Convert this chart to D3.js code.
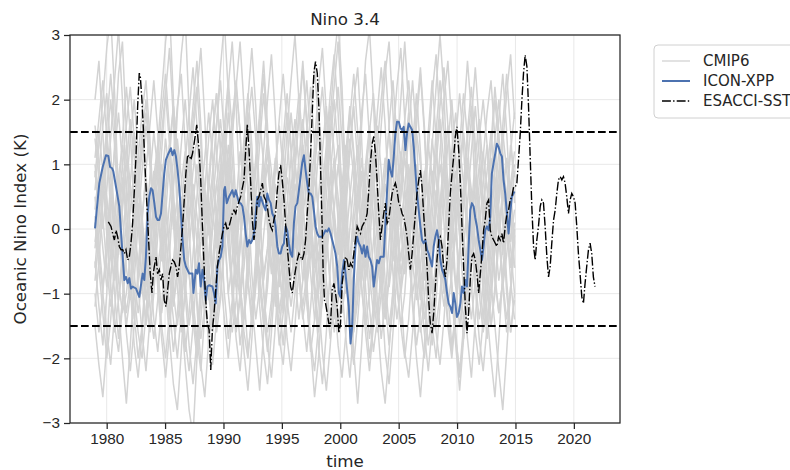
<!DOCTYPE html>
<html>
<head>
<meta charset="utf-8">
<script src="https://cdn.jsdelivr.net/npm/d3@7"></script>
<style>
  body { margin: 0; background: #fff; }
  svg { display: block; font-family: "DejaVu Sans", sans-serif; }
  .axis text { fill: #262626; font-size: 15.3px; }
  .axis line, .axis path { stroke: #262626; stroke-width: 1.25; }
  .grid line { stroke: #e8e8e8; stroke-width: 1; }
</style>
</head>
<body>
<svg width="790" height="470"></svg>
<script>
// ICON-XPP run, [year, index]
var iconPoints = [
  [1979.00, 0.01], [1979.37, 0.71], [1979.66, 0.96], [1979.94, 1.14], [1980.14, 1.13], [1980.29, 0.96],
  [1980.46, 0.94], [1980.57, 0.89], [1980.80, 0.65], [1981.08, 0.35], [1981.31, -0.27], [1981.51, -0.79],
  [1981.65, -0.74], [1981.80, -0.84], [1981.94, -0.76], [1982.08, -0.92], [1982.22, -0.89], [1982.51, -0.92],
  [1982.79, -1.05], [1983.08, -0.69], [1983.22, -0.79], [1983.36, -0.43], [1983.51, 0.24], [1983.65, 0.50],
  [1983.79, 0.63], [1983.93, 0.60], [1984.08, 0.40], [1984.22, 0.19], [1984.36, 0.14], [1984.50, 0.14],
  [1984.65, 0.24], [1984.79, 0.55], [1984.93, 0.86], [1985.07, 1.07], [1985.22, 1.14], [1985.50, 1.25],
  [1985.64, 1.14], [1985.79, 1.22], [1985.93, 1.12], [1986.07, 0.91], [1986.21, 0.65], [1986.36, 0.24],
  [1986.50, -0.17], [1986.64, -0.48], [1986.78, -0.58], [1987.07, -0.69], [1987.34, -0.69], [1987.43, -0.99],
  [1987.63, -0.63], [1987.77, -0.69], [1987.91, -0.53], [1988.05, -0.89], [1988.20, -0.63], [1988.34, -0.79],
  [1988.48, -1.10], [1988.62, -0.89], [1988.77, -0.87], [1989.05, -0.89], [1989.19, -0.99], [1989.34, -1.15],
  [1989.48, -0.58], [1989.62, -0.48], [1989.76, -0.43], [1989.91, -0.27], [1990.05, 0.60], [1990.13, 0.65],
  [1990.28, 0.40], [1990.48, 0.50], [1990.62, 0.55], [1990.76, 0.60], [1990.90, 0.50], [1991.05, 0.60],
  [1991.19, 0.50], [1991.33, 0.40], [1991.47, 0.40], [1991.62, 0.35], [1991.76, 0.19], [1991.90, -0.07],
  [1992.04, -0.27], [1992.19, -0.17], [1992.33, -0.22], [1992.47, -0.17], [1992.61, -0.07], [1992.76, 0.24],
  [1992.90, 0.50], [1993.04, 0.35], [1993.18, 0.50], [1993.47, 0.35], [1993.61, 0.29], [1993.75, 0.55],
  [1993.90, 0.45], [1994.04, 0.40], [1994.18, 0.24], [1994.32, 0.19], [1994.46, 0.04], [1994.61, -0.27],
  [1994.75, -0.38], [1994.89, -0.38], [1995.03, -0.27], [1995.18, -0.22], [1995.32, 0.04], [1995.46, -0.02],
  [1995.60, -0.22], [1995.75, -0.38], [1995.89, -0.43], [1996.03, 0.09], [1996.17, 0.35], [1996.32, 0.40],
  [1996.46, 0.60], [1996.60, 0.81], [1996.74, 1.02], [1996.89, 1.14], [1997.03, 0.91], [1997.17, 0.71],
  [1997.31, 0.55], [1997.46, 0.55], [1997.60, 0.50], [1997.74, 0.29], [1997.88, 0.04], [1998.03, -0.07],
  [1998.17, -0.12], [1998.45, -0.12], [1998.60, -0.07], [1998.74, -0.02], [1998.88, -0.04], [1999.02, 0.01],
  [1999.17, -0.07], [1999.31, -0.17], [1999.45, -0.27], [1999.59, -0.38], [1999.74, -0.58], [1999.88, -0.99],
  [2000.02, -1.05], [2000.16, -0.69], [2000.31, -0.48], [2000.45, -0.69], [2000.59, -0.94], [2000.73, -1.20],
  [2000.88, -1.77], [2001.02, -1.51], [2001.16, -0.79], [2001.30, -0.27], [2001.45, -0.12], [2001.59, -0.22],
  [2001.73, -0.27], [2001.87, -0.38], [2002.02, -0.25], [2002.16, -0.43], [2002.30, -0.27], [2002.44, -0.43],
  [2002.58, -0.48], [2002.73, -0.58], [2002.87, -0.89], [2003.01, -0.69], [2003.15, -0.48], [2003.30, -0.53],
  [2003.44, -0.43], [2003.72, -0.43], [2003.87, 0.09], [2004.01, 0.60], [2004.15, 1.07], [2004.29, 0.91],
  [2004.44, 0.81], [2004.58, 1.12], [2004.72, 1.48], [2004.86, 1.66], [2005.01, 1.66], [2005.15, 1.56],
  [2005.29, 1.53], [2005.43, 1.58], [2005.58, 1.22], [2005.72, 1.48], [2005.86, 1.63], [2006.00, 1.58],
  [2006.15, 1.53], [2006.29, 1.27], [2006.43, 0.91], [2006.57, 0.55], [2006.72, 0.29], [2006.86, 0.04],
  [2007.00, -0.17], [2007.14, -0.22], [2007.29, -0.17], [2007.43, -0.32], [2007.57, -0.38], [2007.71, -0.48],
  [2007.86, -0.58], [2008.00, -0.27], [2008.14, -0.12], [2008.28, -0.02], [2008.43, -0.17], [2008.57, -0.48],
  [2008.71, -0.63], [2008.85, -0.69], [2009.00, -0.79], [2009.14, -0.99], [2009.28, -1.15], [2009.42, -1.20],
  [2009.57, -1.30], [2009.71, -0.99], [2009.85, -1.15], [2009.99, -1.36], [2010.14, -1.30], [2010.28, -1.15],
  [2010.42, -0.89], [2010.56, -0.99], [2010.71, -0.79], [2010.85, -0.89], [2010.99, -0.27], [2011.13, 0.29],
  [2011.27, 0.40], [2011.42, 0.35], [2011.56, 0.17], [2011.70, 0.04], [2011.85, -0.17], [2011.99, -0.32],
  [2012.13, -0.48], [2012.27, -0.27], [2012.41, -0.02], [2012.56, 0.04], [2012.70, -0.02], [2012.84, 0.19],
  [2012.98, 0.86], [2013.13, 1.02], [2013.27, 1.17], [2013.41, 1.32], [2013.55, 1.27], [2013.70, 1.17],
  [2013.84, 1.12], [2013.98, 0.76], [2014.12, 0.55], [2014.27, 0.24], [2014.41, -0.07], [2014.55, 0.24],
  [2014.69, 0.50], [2014.84, 0.55], [2014.92, 0.58]
];

// ESACCI-SST observations, [year, index]
var esaPoints = [
  [1980.14, 0.11], [1980.37, 0.04], [1980.51, -0.07], [1980.66, -0.17], [1980.80, -0.02], [1980.94, -0.12],
  [1981.08, -0.27], [1981.23, -0.32], [1981.37, -0.32], [1981.51, -0.38], [1981.65, -0.32], [1981.80, -0.48],
  [1981.94, -0.43], [1982.08, -0.22], [1982.22, 0.09], [1982.37, 0.60], [1982.51, 1.12], [1982.65, 1.89],
  [1982.79, 2.41], [1982.88, 2.36], [1983.02, 1.99], [1983.16, 1.48], [1983.31, 0.86], [1983.45, 0.35],
  [1983.59, -0.17], [1983.73, -0.69], [1983.88, -0.99], [1983.99, -0.69], [1984.08, -0.58], [1984.22, -0.43],
  [1984.36, -0.69], [1984.50, -0.63], [1984.65, -0.79], [1984.79, -0.69], [1984.93, -1.10], [1985.07, -1.20],
  [1985.22, -0.94], [1985.36, -0.69], [1985.50, -0.58], [1985.64, -0.48], [1985.79, -0.51], [1985.93, -0.58],
  [1986.07, -0.74], [1986.21, -0.58], [1986.36, -0.27], [1986.50, 0.04], [1986.64, 0.45], [1986.78, 0.86],
  [1986.92, 1.12], [1987.07, 1.14], [1987.21, 1.07], [1987.35, 1.17], [1987.55, 1.40], [1987.71, 1.61],
  [1987.91, 1.22], [1988.05, 0.76], [1988.20, 0.04], [1988.34, -0.58], [1988.48, -1.10], [1988.62, -1.46],
  [1988.77, -1.56], [1988.91, -2.18], [1989.05, -1.56], [1989.19, -1.30], [1989.34, -0.94], [1989.48, -0.58],
  [1989.62, -0.38], [1989.91, -0.07], [1990.05, 0.04], [1990.19, 0.09], [1990.33, -0.02], [1990.48, 0.04],
  [1990.62, 0.14], [1990.76, 0.24], [1990.90, 0.29], [1991.05, 0.24], [1991.19, 0.35], [1991.47, 0.50],
  [1991.76, 0.76], [1991.90, 1.22], [1992.04, 1.61], [1992.19, 1.22], [1992.33, 0.71], [1992.47, 0.14],
  [1992.61, -0.17], [1992.76, 0.04], [1992.90, 0.45], [1993.04, 0.50], [1993.18, 0.60], [1993.33, 0.71],
  [1993.47, 0.50], [1993.61, 0.45], [1993.75, 0.35], [1993.90, 0.14], [1994.04, 0.04], [1994.18, -0.02],
  [1994.32, 0.14], [1994.46, 0.24], [1994.61, 0.60], [1994.75, 0.86], [1994.89, 0.99], [1995.03, 0.76],
  [1995.18, 0.45], [1995.32, 0.07], [1995.46, -0.27], [1995.60, -0.58], [1995.75, -0.89], [1995.89, -0.99],
  [1996.03, -0.79], [1996.17, -0.63], [1996.32, -0.48], [1996.46, -0.38], [1996.60, -0.43], [1996.74, -0.48],
  [1996.89, -0.38], [1997.03, -0.17], [1997.17, 0.24], [1997.31, 0.60], [1997.46, 1.17], [1997.60, 1.79],
  [1997.74, 2.41], [1997.88, 2.59], [1998.03, 2.41], [1998.17, 1.89], [1998.25, 1.38], [1998.34, 0.76],
  [1998.45, 0.04], [1998.54, -0.69], [1998.65, -1.10], [1998.74, -1.15], [1998.88, -1.30], [1999.02, -1.46],
  [1999.17, -1.46], [1999.31, -0.94], [1999.45, -0.84], [1999.59, -0.99], [1999.74, -1.20], [1999.88, -1.61],
  [2000.02, -1.46], [2000.16, -0.84], [2000.31, -0.63], [2000.45, -0.43], [2000.59, -0.48], [2000.73, -0.63],
  [2000.88, -0.53], [2001.02, -0.58], [2001.16, -0.38], [2001.30, -0.17], [2001.45, 0.04], [2001.59, -0.02],
  [2001.73, -0.07], [2001.87, 0.04], [2002.02, 0.09], [2002.16, 0.14], [2002.30, 0.24], [2002.44, 0.60],
  [2002.58, 1.02], [2002.73, 1.32], [2002.87, 1.43], [2003.01, 1.17], [2003.15, 0.76], [2003.30, 0.24],
  [2003.44, -0.17], [2003.58, 0.04], [2003.72, 0.24], [2003.86, 0.40], [2004.01, 0.09], [2004.15, 0.14],
  [2004.29, 0.35], [2004.44, 0.55], [2004.58, 0.65], [2004.72, 0.71], [2004.86, 0.60], [2005.01, 0.40],
  [2005.15, 0.35], [2005.29, 0.24], [2005.43, 0.19], [2005.58, 0.04], [2005.72, -0.12], [2005.86, -0.38],
  [2006.00, -0.63], [2006.15, -0.38], [2006.29, -0.07], [2006.43, 0.24], [2006.57, 0.55], [2006.72, 0.76],
  [2006.86, 0.91], [2007.00, 0.65], [2007.14, 0.24], [2007.29, -0.17], [2007.43, -0.58], [2007.57, -1.10],
  [2007.71, -1.46], [2007.86, -1.61], [2008.00, -1.30], [2008.14, -0.89], [2008.28, -0.48], [2008.43, -0.17],
  [2008.57, -0.12], [2008.71, -0.27], [2008.85, -0.58], [2009.00, -0.74], [2009.14, -0.48], [2009.28, 0.04],
  [2009.42, 0.55], [2009.57, 0.86], [2009.71, 1.12], [2009.85, 1.43], [2009.99, 1.58], [2010.14, 1.22],
  [2010.28, 0.71], [2010.42, 0.04], [2010.56, -0.58], [2010.71, -1.20], [2010.85, -1.61], [2010.99, -1.30],
  [2011.13, -0.79], [2011.27, -0.43], [2011.42, -0.38], [2011.56, -0.48], [2011.70, -0.69], [2011.85, -0.99],
  [2011.99, -0.69], [2012.13, -0.38], [2012.27, -0.02], [2012.41, 0.14], [2012.56, 0.40], [2012.70, 0.45],
  [2012.84, -0.02], [2012.98, -0.12], [2013.13, -0.17], [2013.27, -0.22], [2013.41, -0.27], [2013.55, -0.12],
  [2013.70, -0.17], [2013.84, -0.07], [2013.98, -0.22], [2014.12, 0.04], [2014.27, 0.24], [2014.41, 0.29],
  [2014.55, 0.45], [2014.69, 0.50], [2014.84, 0.65], [2014.98, 0.65], [2015.12, 0.71], [2015.26, 1.07],
  [2015.41, 1.48], [2015.55, 1.99], [2015.69, 2.41], [2015.83, 2.69], [2015.98, 2.51], [2016.12, 1.89],
  [2016.26, 1.12], [2016.40, 0.35], [2016.55, -0.27], [2016.69, -0.48], [2016.83, -0.17], [2016.97, 0.04],
  [2017.12, 0.35], [2017.26, 0.45], [2017.40, 0.40], [2017.54, 0.04], [2017.69, -0.43], [2017.83, -0.74],
  [2017.97, -0.58], [2018.11, -0.22], [2018.26, 0.14], [2018.40, 0.29], [2018.54, 0.55], [2018.68, 0.76],
  [2018.83, 0.81], [2018.97, 0.76], [2019.11, 0.81], [2019.25, 0.71], [2019.39, 0.50], [2019.54, 0.24],
  [2019.68, 0.45], [2019.82, 0.55], [2019.96, 0.50], [2020.11, 0.40], [2020.25, 0.04], [2020.39, -0.38],
  [2020.53, -0.69], [2020.68, -1.05], [2020.82, -1.15], [2020.96, -0.84], [2021.10, -0.58], [2021.25, -0.32],
  [2021.39, -0.22], [2021.53, -0.38], [2021.67, -0.74], [2021.81, -0.89]
];

// CMIP6 members, sampled every ~4 months from cmipStart to cmipEnd (estimated)
var cmipStart = 1979.0;
var cmipEnd = 2014.92;

var cmipRun1 = [0.3, 0.9, 1.6, 2.1, 1.2, 0.1, -0.8, -1.3, -1.0, -0.4, 0.2, 0.8,
  1.5, 0.6, -0.5, -1.4, -1.9, -1.2, -0.3, 0.4, 1.1, 1.9, 2.4, 1.3,
  0.0, -1.1, -1.7, -2.2, -1.3, -0.5, 0.1, 0.7, 0.4, -0.2, 0.6, 1.4,
  2.2, 1.5, 0.3, -0.8, -1.5, -0.9, -0.2, 0.5, 1.0, 0.3, -0.6, -1.2,
  -1.8, -1.0, 0.2, 1.1, 1.8, 2.6, 1.7, 0.2, -1.0, -1.6, -1.1, -0.3,
  0.4, 0.9, 0.2, -0.5, 0.3, 1.2, 1.9, 1.0, -0.4, -1.3, -2.0, -1.4,
  -0.6, 0.1, 0.8, 1.6, 2.3, 1.4, 0.2, -0.7, -0.3, 0.5, 1.0, 0.4,
  -0.5, -1.2, -1.8, -1.1, -0.2, 0.6, 1.3, 2.0, 1.1, -0.1, -1.0, -1.7,
  -2.3, -1.4, -0.5, 0.3, 0.9, 1.5, 0.8, -0.1, -0.9, -0.4, 0.3, 0.9];
var cmipRun2 = [-0.5, -1.2, -1.8, -1.0, 0.2, 1.3, 2.4, 2.9, 1.5, -0.2, -1.3, -2.0,
  -1.5, -0.6, 0.3, 0.9, 0.5, -0.3, -1.0, -0.4, 0.6, 1.8, 2.7, 3.3,
  1.8, 0.2, -1.2, -2.1, -2.6, -1.7, -0.8, 0.1, 0.7, 1.2, 0.6, -0.1,
  -0.7, -0.2, 0.8, 2.0, 2.8, 1.9, 0.4, -0.9, -1.8, -2.3, -1.5, -0.6,
  0.2, 0.8, 0.4, -0.3, 0.5, 1.5, 2.3, 1.4, 0.0, -1.1, -1.9, -2.5,
  -1.8, -0.9, 0.1, 0.7, 1.3, 0.6, -0.2, 0.4, 1.6, 2.6, 3.1, 2.0,
  0.5, -0.9, -1.9, -2.4, -1.6, -0.7, 0.0, 0.6, 0.2, -0.5, -1.1, -0.6,
  0.3, 1.2, 2.1, 2.7, 1.6, 0.1, -1.0, -1.8, -1.3, -0.4, 0.5, 1.1,
  0.6, -0.2, -0.9, -0.3, 0.4, 1.3, 2.2, 1.5, 0.3, -0.8, -1.6, -1.0];
var cmipRun3 = [1.0, 0.4, -0.3, -0.9, -0.4, 0.3, 0.8, 0.2, -0.6, -1.1, -0.5, 0.5,
  1.4, 2.0, 1.2, 0.1, -0.8, -1.5, -2.0, -1.3, -0.5, 0.2, -0.2, 0.4,
  1.1, 1.7, 2.2, 1.3, 0.0, -1.0, -1.6, -0.9, -0.1, 0.6, 1.3, 0.7,
  -0.1, -0.9, -1.4, -0.8, 0.1, 0.9, 1.6, 2.4, 1.4, 0.2, -0.9, -1.7,
  -2.1, -1.3, -0.4, 0.3, 0.9, 0.4, -0.4, 0.2, 1.0, 1.8, 1.1, 0.0,
  -0.9, -1.6, -1.1, -0.3, 0.5, 1.2, 2.0, 2.5, 1.4, -0.1, -1.2, -1.9,
  -1.4, -0.6, 0.2, 0.9, 0.4, -0.4, -1.0, -0.5, 0.4, 1.3, 2.1, 1.2,
  0.1, -0.8, -1.5, -2.0, -1.2, -0.3, 0.5, 1.1, 0.6, -0.1, 0.7, 1.5,
  2.2, 1.3, 0.0, -1.0, -1.7, -1.1, -0.3, 0.4, 1.0, 0.5, -0.2, 0.3];
var cmipRun4 = [-1.2, -0.5, 0.4, 1.1, 0.6, -0.2, 0.5, 1.4, 2.2, 1.5, 0.3, -0.9,
  -1.6, -2.2, -1.4, -0.6, 0.2, 0.8, 0.3, -0.4, -1.1, -0.6, 0.3, 1.0,
  1.8, 2.5, 1.6, 0.3, -1.0, -1.8, -1.2, -0.4, 0.3, 1.0, 0.5, -0.3,
  -0.9, -0.3, 0.5, 1.2, 0.7, -0.1, -0.8, -1.5, -0.9, 0.0, 0.9, 1.7,
  2.4, 1.6, 0.4, -0.7, -1.4, -0.8, 0.0, 0.6, 0.2, -0.5, 0.2, 1.1,
  1.9, 1.2, 0.1, -0.9, -1.7, -2.3, -1.5, -0.6, 0.3, 1.0, 1.6, 0.9,
  0.0, -0.7, -0.2, 0.6, 1.4, 2.2, 2.8, 1.7, 0.2, -1.1, -1.8, -1.3,
  -0.5, 0.2, 0.9, 0.4, -0.3, -1.0, -0.4, 0.5, 1.4, 2.1, 1.3, 0.1,
  -0.9, -1.6, -2.1, -1.4, -0.5, 0.3, 0.8, 0.3, -0.4, 0.4, 1.2, 1.8];
var cmipRun5 = [0.8, 1.5, 0.9, -0.1, -0.9, -1.6, -1.1, -0.3, 0.6, 1.4, 2.0, 1.2,
  0.1, -0.7, -0.3, 0.4, 1.0, 0.5, -0.4, -1.2, -1.9, -1.3, -0.5, 0.4,
  1.2, 1.9, 2.6, 1.6, 0.2, -0.8, -1.5, -1.0, -0.2, 0.5, 1.1, 0.5,
  -0.3, 0.4, 1.2, 1.8, 1.0, -0.2, -1.2, -1.9, -2.4, -1.6, -0.7, 0.1,
  0.7, 0.2, -0.4, 0.3, 1.1, 1.7, 1.0, 0.0, -0.6, -0.2, 0.6, 1.3,
  2.1, 2.7, 1.8, 0.5, -0.7, -1.6, -2.1, -1.4, -0.6, 0.1, 0.7, 0.2,
  -0.5, -1.0, -0.4, 0.5, 1.3, 0.8, 0.0, 0.6, 1.5, 2.3, 1.4, 0.1,
  -1.1, -1.8, -1.3, -0.5, 0.3, 0.9, 0.4, -0.3, -0.9, -0.3, 0.6, 1.4,
  1.9, 1.1, 0.0, -0.8, -1.5, -0.9, -0.1, 0.7, 1.6, 2.4, 1.5, 0.4];
var cmipRun6 = [-0.2, 0.3, 0.7, 0.2, -0.4, -0.8, -0.3, 0.4, 1.0, 0.6, 0.0, -0.5,
  -1.0, -0.6, 0.1, 0.8, 1.3, 0.7, -0.1, -0.7, -1.2, -0.7, 0.0, 0.6,
  1.1, 0.5, -0.2, -0.9, -1.3, -0.8, 0.0, 0.7, 1.2, 1.6, 0.9, 0.1,
  -0.6, -1.1, -0.6, 0.2, 0.9, 0.4, -0.3, -0.8, -0.3, 0.5, 1.1, 0.6,
  -0.1, -0.7, -1.2, -0.7, 0.1, 0.8, 1.4, 0.9, 0.1, -0.6, -1.0, -0.5,
  0.2, 0.9, 1.3, 0.7, -0.1, -0.8, -0.4, 0.3, 0.9, 0.4, -0.3, -0.9,
  -1.3, -0.8, 0.0, 0.7, 1.2, 1.7, 1.0, 0.2, -0.5, -1.0, -0.6, 0.1,
  0.8, 1.3, 0.8, 0.0, -0.7, -1.2, -0.7, 0.1, 0.6, 0.2, -0.4, -1.0,
  -0.6, 0.1, 0.7, 1.2, 0.6, -0.1, -0.8, -1.3, -0.8, 0.0, 0.6, 1.0];
var cmipRun7 = [2.0, 2.6, 1.5, 0.2, -0.9, -1.5, -1.9, -1.2, -0.4, 0.3, 0.9, 0.3,
  -0.4, -1.1, -0.5, 0.4, 1.3, 2.1, 2.9, 3.4, 2.0, 0.4, -0.9, -1.7,
  -2.2, -1.5, -0.6, 0.1, 0.6, 0.1, -0.6, -0.1, 0.8, 1.6, 2.3, 1.5,
  0.3, -0.8, -1.6, -2.0, -1.3, -0.4, 0.4, 1.0, 0.5, -0.2, -0.8, -0.2,
  0.6, 1.5, 2.3, 3.0, 2.0, 0.5, -0.8, -1.7, -2.2, -1.5, -0.6, 0.2,
  0.8, 0.3, -0.4, 0.3, 1.1, 1.8, 1.1, 0.0, -0.9, -1.5, -1.0, -0.2,
  0.7, 1.6, 2.4, 2.9, 1.8, 0.3, -1.0, -1.9, -2.3, -1.6, -0.7, 0.2,
  0.9, 0.4, -0.3, 0.4, 1.2, 2.0, 2.6, 1.6, 0.2, -1.0, -1.7, -1.2,
  -0.4, 0.3, 1.0, 0.5, -0.2, -0.8, -0.3, 0.5, 1.3, 2.1, 2.7, 1.7];
var cmipRun8 = [-1.5, -2.1, -2.6, -1.8, -0.8, 0.1, 0.8, 1.3, 0.7, 0.0, -0.7, -1.3,
  -0.8, 0.0, 0.8, 1.5, 0.9, 0.0, -0.9, -1.7, -2.4, -2.8, -1.9, -0.8,
  0.2, 0.9, 1.4, 0.8, 0.1, -0.6, -1.2, -0.7, 0.2, 1.0, 1.8, 1.1,
  0.0, -1.0, -1.9, -2.5, -1.7, -0.8, 0.1, 0.8, 1.4, 0.9, 0.1, -0.6,
  -1.3, -0.8, 0.0, 0.7, 0.3, -0.4, -1.1, -1.8, -2.6, -2.0, -1.0, 0.0,
  0.8, 1.6, 2.2, 1.4, 0.3, -0.6, -1.3, -0.8, 0.0, 0.6, 0.1, -0.6,
  -1.4, -2.2, -2.7, -1.9, -0.9, 0.0, 0.7, 1.4, 0.8, 0.0, -0.8, -1.5,
  -2.0, -1.4, -0.5, 0.3, 1.0, 0.5, -0.2, -0.9, -1.6, -2.3, -1.6, -0.6,
  0.3, 1.1, 1.7, 0.9, 0.0, -0.8, -1.5, -2.2, -2.8, -1.9, -0.9, 0.0];
var cmipRun9 = [0.5, -0.2, -0.9, -0.4, 0.5, 1.2, 1.8, 1.0, 0.0, -0.8, -1.4, -0.8,
  0.1, 0.9, 1.6, 2.3, 1.5, 0.3, -0.8, -1.4, -0.9, -0.1, 0.5, 0.0,
  -0.7, -1.3, -1.8, -1.1, -0.2, 0.6, 1.4, 2.1, 1.3, 0.1, -1.0, -1.6,
  -1.1, -0.3, 0.5, 1.0, 0.5, -0.2, 0.4, 1.2, 2.0, 2.7, 1.7, 0.3,
  -0.9, -1.7, -2.2, -1.5, -0.6, 0.2, 0.7, 0.2, -0.5, -1.0, -0.4, 0.5,
  1.3, 2.0, 1.2, 0.1, -0.7, -1.2, -0.6, 0.3, 1.1, 0.5, -0.3, -1.0,
  -1.6, -1.0, -0.1, 0.7, 1.5, 0.9, 0.0, -0.6, -0.1, 0.7, 1.6, 2.4,
  1.5, 0.2, -0.9, -1.6, -2.1, -1.4, -0.5, 0.3, 0.9, 0.4, -0.3, 0.4,
  1.2, 1.9, 1.1, 0.0, -0.9, -1.5, -1.0, -0.2, 0.5, 1.1, 0.6, -0.2];
var cmipRun10 = [-0.8, -0.1, 0.6, 1.3, 2.0, 1.3, 0.2, -0.7, -1.3, -0.8, 0.0, 0.6,
  0.2, -0.5, -1.2, -1.7, -1.1, -0.2, 0.6, 1.3, 1.9, 1.2, 0.1, -0.8,
  -1.5, -1.0, -0.2, 0.5, 1.1, 1.8, 1.1, 0.1, -0.7, -1.4, -2.0, -1.3,
  -0.4, 0.3, 1.0, 1.6, 2.2, 1.4, 0.2, -0.7, -0.3, 0.5, 0.1, -0.6,
  -1.2, -0.7, 0.1, 0.9, 1.7, 2.5, 1.6, 0.4, -0.8, -1.5, -1.0, -0.2,
  0.5, 0.0, -0.6, -0.1, 0.7, 1.4, 0.8, -0.1, -0.9, -1.6, -2.2, -1.5,
  -0.6, 0.2, 0.9, 1.5, 0.9, 0.1, -0.7, -0.2, 0.6, 1.3, 0.7, -0.1,
  -0.8, -0.3, 0.5, 1.2, 1.9, 2.5, 1.6, 0.3, -0.9, -1.5, -1.0, -0.2,
  0.4, -0.3, -1.0, -1.6, -1.1, -0.3, 0.5, 1.2, 0.7, 0.0, -0.6, -0.1];
var cmipRun11 = [1.4, 0.8, 0.0, 0.6, 1.4, 2.3, 3.1, 2.0, 0.5, -0.9, -1.8, -2.3,
  -1.6, -0.7, 0.2, 0.8, 0.3, -0.5, 0.2, 1.1, 1.9, 1.2, 0.0, -1.0,
  -1.8, -2.4, -1.7, -0.8, 0.1, 0.8, 0.3, -0.3, 0.4, 1.3, 2.2, 2.9,
  1.9, 0.4, -1.0, -1.9, -1.4, -0.6, 0.1, 0.7, 0.2, -0.5, -1.2, -0.7,
  0.1, 1.0, 1.8, 1.1, 0.0, -0.8, -0.3, 0.5, 1.3, 2.2, 2.8, 1.8,
  0.3, -1.0, -1.8, -2.3, -1.6, -0.7, 0.1, 0.6, 0.1, -0.6, 0.0, 0.9,
  1.8, 2.5, 1.6, 0.4, -0.7, -1.4, -0.9, -0.1, 0.6, 0.2, -0.5, -1.1,
  -0.5, 0.4, 1.3, 2.2, 3.0, 2.1, 0.6, -0.8, -1.7, -2.2, -1.5, -0.6,
  0.2, 0.8, 0.3, -0.4, 0.4, 1.2, 2.0, 1.3, 0.1, -1.0, -1.6, -1.1];
var cmipRun12 = [-0.3, 0.4, 1.0, 0.5, -0.2, -1.0, -1.7, -1.1, -0.2, 0.7, 1.5, 0.9,
  -0.1, -1.0, -1.6, -1.0, -0.1, 0.7, 1.4, 0.8, 0.0, 0.5, 1.3, 2.0,
  1.2, 0.0, -1.1, -1.7, -1.2, -0.4, 0.4, 1.1, 1.7, 1.0, -0.1, -1.0,
  -1.6, -1.1, -0.3, 0.3, -0.2, 0.5, 1.3, 2.1, 1.3, 0.1, -1.0, -1.8,
  -1.3, -0.5, 0.3, 1.0, 0.5, -0.2, -0.9, -0.4, 0.4, 1.2, 0.7, -0.1,
  -0.8, -1.4, -0.9, 0.0, 0.9, 1.7, 2.4, 1.5, 0.2, -0.9, -1.7, -1.2,
  -0.3, 0.5, 1.1, 0.6, -0.2, -0.9, -1.5, -1.0, -0.1, 0.8, 1.5, 1.0,
  0.2, -0.6, -1.3, -0.8, 0.1, 0.9, 0.4, -0.3, 0.5, 1.3, 2.1, 1.4,
  0.2, -0.9, -1.7, -2.2, -1.5, -0.6, 0.2, 0.9, 1.5, 0.9, 0.1, -0.6];
var cmipRun13 = [0.1, -0.6, -1.3, -2.0, -1.4, -0.5, 0.3, 1.0, 1.6, 2.2, 1.4, 0.2,
  -0.9, -1.5, -1.0, -0.2, 0.5, 1.0, 0.5, -0.3, -1.0, -1.5, -0.9, 0.0,
  0.8, 1.5, 2.1, 2.8, 1.7, 0.3, -0.9, -1.6, -1.1, -0.3, 0.4, 0.0,
  -0.7, -0.2, 0.6, 1.3, 0.8, 0.0, -0.7, -1.3, -1.9, -1.3, -0.4, 0.4,
  1.1, 1.8, 1.2, 0.2, -0.6, -1.2, -0.7, 0.1, 0.9, 1.6, 2.2, 1.4,
  0.2, -0.8, -1.5, -1.0, -0.2, 0.5, 1.1, 0.6, -0.1, -0.8, -0.3, 0.6,
  1.3, 2.0, 2.6, 1.6, 0.3, -0.8, -1.5, -2.0, -1.4, -0.5, 0.3, 0.9,
  0.4, -0.3, -1.0, -0.5, 0.3, 1.0, 1.6, 0.9, 0.0, -0.8, -1.4, -0.9,
  -0.1, 0.7, 1.4, 2.0, 1.3, 0.2, -0.7, -1.3, -0.8, 0.0, 0.7, 1.2];
var cmipRun14 = [1.1, 1.7, 2.3, 1.4, 0.2, -0.6, -1.1, -0.6, 0.1, -0.4, -1.0, -1.6,
  -2.0, -1.3, -0.4, 0.4, 1.1, 1.8, 2.4, 1.5, 0.3, -0.6, -1.1, -0.6,
  0.1, 0.7, 0.2, -0.5, -1.1, -1.6, -2.1, -1.4, -0.5, 0.3, 1.0, 1.7,
  2.3, 1.5, 0.3, -0.8, -1.3, -0.7, 0.0, 0.6, 1.2, 0.6, -0.2, -0.9,
  -0.4, 0.4, 1.1, 1.7, 1.0, -0.1, -1.1, -1.9, -1.4, -0.6, 0.1, 0.8,
  1.5, 2.2, 2.9, 1.9, 0.4, -0.8, -1.6, -1.1, -0.3, 0.4, 1.1, 0.6,
  -0.2, -0.9, -1.4, -0.8, 0.0, 0.6, 0.1, -0.6, 0.2, 1.0, 1.8, 2.5,
  1.6, 0.3, -0.8, -1.5, -1.0, -0.2, 0.5, 1.2, 1.8, 1.1, 0.0, -0.9,
  -1.4, -0.8, 0.0, 0.7, 1.3, 0.7, -0.1, -0.8, -0.3, 0.5, 1.3, 0.8];
var cmipRun15 = [-0.6, 0.2, 0.9, 1.5, 0.8, -0.2, -1.2, -2.0, -2.7, -1.8, -0.8, 0.1,
  0.9, 1.6, 1.0, 0.1, -0.6, -0.1, 0.6, 1.3, 0.6, -0.4, -1.3, -2.1,
  -2.8, -3.2, -2.0, -0.9, 0.0, 0.8, 1.5, 2.1, 1.2, 0.0, -1.0, -0.5,
  0.4, 1.2, 0.6, -0.3, -1.1, -1.8, -2.5, -1.6, -0.6, 0.3, 1.0, 1.6,
  0.9, 0.0, -0.8, -0.3, 0.5, 1.3, 0.7, -0.2, -1.0, -1.8, -2.4, -1.6,
  -0.6, 0.3, 1.0, 0.5, -0.3, -1.1, -1.9, -2.7, -1.8, -0.7, 0.2, 1.0,
  1.6, 0.9, -0.1, -0.9, -0.4, 0.4, 1.2, 0.6, -0.3, -1.2, -2.0, -2.6,
  -1.8, -0.8, 0.2, 1.0, 1.7, 1.0, -0.1, -1.0, -1.8, -2.5, -1.7, -0.8,
  0.0, 0.8, 0.3, -0.5, -1.3, -2.0, -2.6, -1.7, -0.7, 0.2, -0.3, -1.0];
var cmipRun16 = [0.6, 1.3, 2.0, 2.8, 3.3, 2.1, 0.5, -0.8, -1.6, -2.2, -1.5, -0.6,
  0.2, 0.8, 0.2, -0.5, 0.3, 1.2, 2.1, 2.8, 1.7, 0.2, -1.1, -1.9,
  -1.3, -0.4, 0.5, 1.2, 0.6, -0.1, 0.7, 1.6, 2.5, 3.2, 2.1, 0.5,
  -0.9, -1.8, -1.3, -0.4, 0.4, 1.1, 1.8, 2.6, 1.6, 0.2, -0.9, -1.5,
  -1.0, -0.2, 0.6, 1.4, 2.1, 1.3, 0.2, -0.7, -1.4, -0.9, 0.0, 0.9,
  1.7, 2.6, 3.2, 2.2, 0.6, -0.7, -1.5, -1.0, -0.1, 0.7, 1.5, 0.8,
  0.0, -0.7, -1.3, -0.7, 0.2, 1.1, 2.0, 2.9, 1.9, 0.4, -0.8, -1.6,
  -1.1, -0.3, 0.6, 1.5, 2.3, 1.5, 0.3, -0.6, -0.1, 0.8, 1.7, 2.6,
  1.8, 0.5, -0.7, -1.4, -0.9, 0.0, 0.9, 1.7, 2.4, 1.5, 0.3, -0.6];
var cmipRun17 = [0.2, -0.4, -1.0, -1.6, -2.1, -1.3, -0.3, 0.6, 1.3, 0.7, 0.1, 0.6,
  1.2, 1.8, 1.1, 0.2, -0.6, -1.3, -0.8, 0.0, 0.7, 1.4, 0.8, 0.0,
  -0.7, -1.4, -2.0, -1.4, -0.6, 0.2, 0.9, 1.6, 2.3, 1.4, 0.2, -0.8,
  -1.5, -1.0, -0.2, 0.5, 1.1, 0.5, -0.3, -1.0, -1.6, -1.1, -0.2, 0.6,
  1.4, 2.1, 1.3, 0.2, -0.8, -1.4, -0.9, 0.0, 0.8, 0.3, -0.4, -1.1,
  -1.7, -1.2, -0.3, 0.5, 1.2, 1.9, 1.2, 0.1, -0.8, -0.3, 0.5, 1.2,
  0.6, -0.3, -1.1, -1.8, -1.2, -0.3, 0.5, 1.2, 1.8, 1.0, 0.0, -0.9,
  -1.6, -2.2, -1.5, -0.5, 0.4, 1.1, 0.5, -0.2, 0.5, 1.3, 0.7, -0.2,
  -1.0, -0.4, 0.4, 1.1, 1.8, 2.3, 1.4, 0.2, -0.9, -1.6, -1.0, -0.2];
var cmipRun18 = [0.9, 0.3, 0.8, 1.6, 2.4, 1.6, 0.4, -0.7, -1.5, -1.0, -0.2, 0.4,
  -0.3, -0.9, -0.3, 0.5, 1.2, 0.6, -0.1, -0.8, -1.4, -2.0, -1.3, -0.3,
  0.6, 1.3, 0.7, 0.0, 0.6, 1.4, 2.0, 1.2, 0.0, -1.0, -1.7, -1.1,
  -0.2, 0.6, 1.4, 2.1, 1.3, 0.1, -0.9, -1.4, -0.8, 0.0, 0.7, 0.2,
  -0.5, -1.1, -1.6, -1.0, -0.1, 0.7, 1.5, 2.2, 1.3, 0.1, -0.8, -0.3,
  0.5, 1.1, 0.5, -0.3, -1.0, -0.5, 0.3, 1.0, 1.8, 2.4, 1.4, 0.1,
  -1.1, -1.7, -1.1, -0.2, 0.6, 0.1, -0.5, 0.2, 1.0, 0.5, -0.2, -0.9,
  -0.3, 0.6, 1.4, 0.8, 0.0, -0.7, -1.4, -1.9, -1.2, -0.3, 0.4, 1.0,
  1.7, 2.5, 1.6, 0.3, -0.8, -1.5, -0.9, 0.0, 0.6, 0.1, -0.6, 0.1];
var cmipRun19 = [-1.0, -1.6, -1.0, -0.1, 0.7, 0.2, -0.4, 0.3, 1.0, 1.7, 1.1, 0.1,
  -0.8, -1.4, -0.8, 0.0, 0.8, 1.5, 2.1, 1.3, 0.1, -0.9, -1.6, -1.0,
  -0.3, 0.4, 1.0, 0.4, -0.4, -1.1, -0.5, 0.3, 1.0, 0.4, -0.3, -1.0,
  -1.7, -2.2, -1.4, -0.5, 0.3, 1.0, 1.7, 1.0, 0.0, -0.7, -0.2, 0.5,
  1.2, 0.6, -0.2, -0.9, -0.4, 0.4, 1.1, 1.8, 2.5, 1.6, 0.3, -0.8,
  -1.5, -0.9, -0.1, 0.6, 0.1, -0.6, -1.2, -0.6, 0.2, 0.9, 1.5, 2.1,
  1.3, 0.2, -0.8, -1.5, -1.0, -0.2, 0.5, 1.1, 0.6, -0.1, -0.7, -0.2,
  0.6, 1.5, 2.3, 1.4, 0.2, -0.8, -1.5, -2.0, -1.3, -0.4, 0.3, 0.9,
  0.4, -0.3, -0.9, -0.4, 0.4, 1.1, 0.6, -0.1, -0.8, -1.4, -0.9, -0.1];
var cmipRun20 = [1.6, 1.0, 0.2, -0.6, -1.2, -0.7, 0.1, 0.8, 0.3, -0.4, 0.3, 1.1,
  1.8, 2.3, 1.4, 0.2, -0.9, -1.7, -2.3, -1.6, -0.7, 0.1, 0.7, 1.2,
  0.6, -0.1, -0.7, -0.2, 0.5, 0.0, -0.7, -1.4, -1.0, -0.1, 0.8, 1.5,
  2.2, 2.9, 1.9, 0.5, -0.7, -1.4, -0.9, -0.1, 0.5, 0.0, -0.7, -1.3,
  -0.8, 0.0, 0.6, 0.1, -0.6, -1.3, -1.9, -1.2, -0.3, 0.5, 1.2, 1.9,
  1.2, 0.2, -0.7, -1.3, -0.8, 0.0, 0.7, 1.3, 0.7, 0.0, -0.7, -1.3,
  -0.8, 0.0, 0.7, 0.2, -0.5, 0.2, 1.0, 1.7, 2.3, 1.5, 0.3, -0.8,
  -1.4, -0.9, -0.1, 0.6, 0.1, -0.6, -1.2, -0.7, 0.1, 0.8, 1.5, 0.9,
  0.0, -0.8, -1.4, -0.9, 0.0, 0.8, 1.4, 2.0, 1.2, 0.1, -0.8, -1.4];

var cmipRuns = [cmipRun1, cmipRun2, cmipRun3, cmipRun4, cmipRun5, cmipRun6, cmipRun7, cmipRun8,
  cmipRun9, cmipRun10, cmipRun11, cmipRun12, cmipRun13, cmipRun14, cmipRun15, cmipRun16,
  cmipRun17, cmipRun18, cmipRun19, cmipRun20];

var xTicks = [1980, 1985, 1990, 1995, 2000, 2005, 2010, 2015, 2020];
var yTicks = [-3, -2, -1, 0, 1, 2, 3];
var threshold = 1.5;

var seriesNames = ['CMIP6', 'ICON-XPP', 'ESACCI-SST'];

// Select the SVG element:
var svg = d3.select('svg');

var margin = { top: 35, right: 170, bottom: 47, left: 70 };
var width = 790 - margin.left - margin.right;
var height = 470 - margin.top - margin.bottom;

var g = svg.append('g')
  .attr('transform', 'translate(' + margin.left + ',' + margin.top + ')');

// Turn each CMIP6 member into [year, value] pairs:
var cmipStep = (cmipEnd - cmipStart) / (cmipRun1.length - 1);
var cmipLines = cmipRuns.map(function (run) {
  return run.map(function (v, i) { return [cmipStart + i * cmipStep, v]; });
});

// matplotlib-like 5% margin around the data on x
var lo = Math.min(cmipStart, iconPoints[0][0], esaPoints[0][0]);
var hi = Math.max(cmipEnd, iconPoints[iconPoints.length - 1][0], esaPoints[esaPoints.length - 1][0]);
var pad = (hi - lo) * 0.05;

var x = d3.scaleLinear().domain([lo - pad, hi + pad]).range([0, width]);
var y = d3.scaleLinear().domain([-3, 3]).range([height, 0]);

// Grid lines:
var grid = g.append('g').attr('class', 'grid');

grid.selectAll('line.gx')
  .data(xTicks)
  .enter()
  .append('line')
  .attr('class', 'gx')
  .attr('x1', function (d) { return x(d); })
  .attr('x2', function (d) { return x(d); })
  .attr('y1', 0)
  .attr('y2', height);

grid.selectAll('line.gy')
  .data(yTicks)
  .enter()
  .append('line')
  .attr('class', 'gy')
  .attr('x1', 0)
  .attr('x2', width)
  .attr('y1', function (d) { return y(d); })
  .attr('y2', function (d) { return y(d); });

// Clip the lines to the plot area:
svg.append('defs')
  .append('clipPath')
  .attr('id', 'plot-clip')
  .append('rect')
  .attr('width', width)
  .attr('height', height);

var plot = g.append('g').attr('clip-path', 'url(#plot-clip)');

var line = d3.line()
  .x(function (d) { return x(d[0]); })
  .y(function (d) { return y(d[1]); });

plot.selectAll('.cmip')
  .data(cmipLines)
  .enter()
  .append('path')
  .attr('class', 'cmip')
  .attr('d', line)
  .attr('fill', 'none')
  .attr('stroke', '#d3d3d3')
  .attr('stroke-width', 1.5);

plot.append('path')
  .datum(iconPoints)
  .attr('d', line)
  .attr('fill', 'none')
  .attr('stroke', '#4c72b0')
  .attr('stroke-width', 2)
  .attr('stroke-linejoin', 'round');

plot.append('path')
  .datum(esaPoints)
  .attr('d', line)
  .attr('fill', 'none')
  .attr('stroke', '#000')
  .attr('stroke-width', 1.4)
  .attr('stroke-dasharray', '8.9,2.2,1.4,2.2');

// Threshold lines at +/-1.5:
plot.selectAll('.thresh')
  .data([threshold, -threshold])
  .enter()
  .append('line')
  .attr('class', 'thresh')
  .attr('x1', 0)
  .attr('x2', width)
  .attr('y1', function (d) { return y(d); })
  .attr('y2', function (d) { return y(d); })
  .attr('stroke', '#000')
  .attr('stroke-width', 2)
  .attr('stroke-dasharray', '7.7,3.3');

// Axes:
var xAxis = g.append('g')
  .attr('class', 'axis axis-x')
  .attr('transform', 'translate(0,' + height + ')')
  .call(d3.axisBottom(x).tickValues(xTicks).tickFormat(d3.format('d')).tickSize(6).tickPadding(4));

var yAxis = g.append('g')
  .attr('class', 'axis axis-y')
  .call(d3.axisLeft(y).tickValues(yTicks).tickFormat(d3.format('d')).tickSize(6).tickPadding(4));

xAxis.select('.domain').remove();
yAxis.select('.domain').remove();

// Frame around the plot:
g.append('rect')
  .attr('width', width)
  .attr('height', height)
  .attr('fill', 'none')
  .attr('stroke', '#262626')
  .attr('stroke-width', 1.25);

// Title and labels:
svg.append('text')
  .attr('x', margin.left + width / 2)
  .attr('y', 25)
  .attr('text-anchor', 'middle')
  .attr('fill', '#262626')
  .style('font-size', '16.7px')
  .text('Nino 3.4');

svg.append('text')
  .attr('x', margin.left + width / 2)
  .attr('y', 467)
  .attr('text-anchor', 'middle')
  .attr('fill', '#262626')
  .style('font-size', '16.7px')
  .text('time');

svg.append('text')
  .attr('transform', 'translate(26,' + (margin.top + height / 2) + ') rotate(-90)')
  .attr('text-anchor', 'middle')
  .attr('fill', '#262626')
  .style('font-size', '16.7px')
  .text('Oceanic Nino Index (K)');

// Legend:
var legend = svg.append('g')
  .attr('transform', 'translate(654,45)');

legend.append('rect')
  .attr('width', 150)
  .attr('height', 73)
  .attr('rx', 4)
  .attr('fill', '#fff')
  .attr('stroke', '#d0d0d0');

var legendStyles = [
  { color: '#d3d3d3', width: 1.3, dash: null },
  { color: '#4c72b0', width: 2, dash: null },
  { color: '#000', width: 1.4, dash: '8.9,2.2,1.4,2.2' }
];

var items = legend.selectAll('.item')
  .data(seriesNames)
  .enter()
  .append('g')
  .attr('class', 'item')
  .attr('transform', function (d, i) { return 'translate(0,' + (16 + i * 20) + ')'; });

items.append('line')
  .attr('x1', 8)
  .attr('x2', 36)
  .attr('stroke', function (d, i) { return legendStyles[i].color; })
  .attr('stroke-width', function (d, i) { return legendStyles[i].width; })
  .attr('stroke-dasharray', function (d, i) { return legendStyles[i].dash; });

items.append('text')
  .attr('x', 49)
  .attr('dy', '0.35em')
  .attr('fill', '#262626')
  .style('font-size', '15px')
  .text(function (d) { return d; });
</script>
</body>
</html>
